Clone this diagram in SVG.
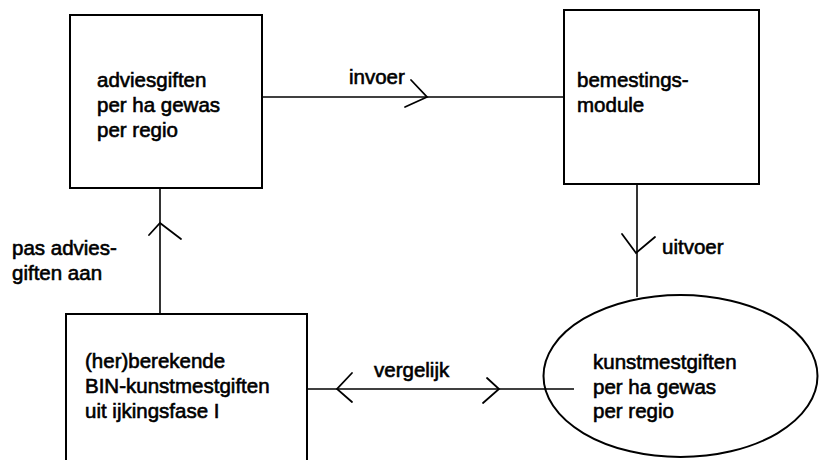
<svg xmlns="http://www.w3.org/2000/svg" width="819" height="460" viewBox="0 0 819 460">
<style>
.box{fill:none;stroke:#000;stroke-width:2}
.ln{fill:none;stroke:#000;stroke-width:1.6}
.ah{fill:none;stroke:#000;stroke-width:1.8;stroke-linecap:round;stroke-linejoin:miter}
text{font-family:"Liberation Sans",Arial,Helvetica,sans-serif;font-size:20.5px;fill:#000;stroke:#000;stroke-width:0.6}
</style>
<rect width="819" height="460" fill="#fff"/>
<g id="connectors">
<line class="ln" x1="262" y1="97" x2="564" y2="97"/>
<polyline class="ah" points="411,80 427,97 405,107"/>
<text x="349" y="84">invoer</text>
<line class="ln" x1="160" y1="188" x2="160" y2="314"/>
<polyline class="ah" points="149,235 160,223 181,239"/>
<text x="12" y="255">pas advies-</text>
<text x="12" y="280">giften aan</text>
<line class="ln" x1="637" y1="184" x2="637" y2="297"/>
<polyline class="ah" points="622,234 636,253 655,237"/>
<text x="662" y="254">uitvoer</text>
<line class="ln" x1="307" y1="389" x2="574" y2="389"/>
<polyline class="ah" points="352,373 337,389 352,402"/>
<polyline class="ah" points="487,378 499,389 483,403"/>
<text x="374" y="377">vergelijk</text>
</g>
<g id="node-adviesgiften">
<rect class="box" x="70" y="15" width="192" height="173"/>
<text x="97" y="87">adviesgiften</text>
<text x="97" y="112">per ha gewas</text>
<text x="97" y="137">per regio</text>
</g>
<g id="node-bemestingsmodule">
<rect class="box" x="564" y="10" width="195" height="174"/>
<text x="577" y="87">bemestings-</text>
<text x="577" y="112">module</text>
</g>
<g id="node-herberekende">
<path class="box" d="M66,470 V314 H307 V470"/>
<text x="85" y="368">(her)berekende</text>
<text x="85" y="393">BIN-kunstmestgiften</text>
<text x="85" y="418">uit ijkingsfase I</text>
</g>
<g id="node-kunstmestgiften">
<ellipse class="box" cx="680.5" cy="376" rx="137" ry="81"/>
<text x="593" y="369">kunstmestgiften</text>
<text x="593" y="394">per ha gewas</text>
<text x="593" y="418">per regio</text>
</g>
</svg>
